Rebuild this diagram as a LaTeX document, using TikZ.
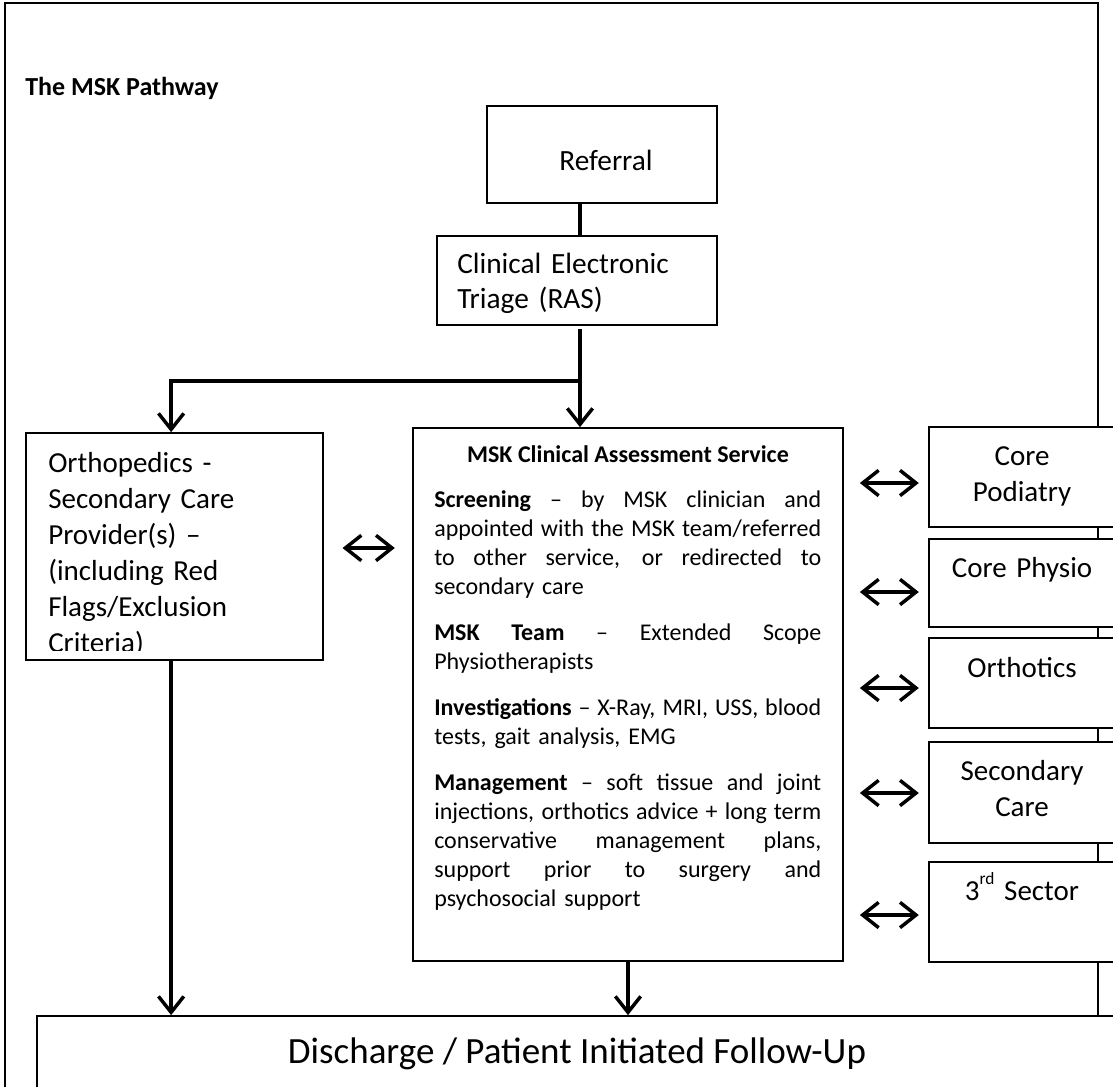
\documentclass[tikz,border=0pt]{standalone}
\usepackage{fontspec}
\setmainfont{Carlito}
\usetikzlibrary{arrows.meta,fit,calc}
\newcommand{\jline}[1]{\leavevmode\hbox to 290.25pt{\spaceskip=0.226em plus 1fil\relax #1}}
\begin{document}
\begin{tikzpicture}[x=0.75pt,y=-0.75pt,
  box/.style={draw, line width=1.3pt, fill=white, inner sep=0pt},
  frm/.style={draw, line width=1.5pt, inner sep=0pt},
  conn/.style={line width=2.6pt},
  tip/.tip={Straight Barb[length=12pt,width=19pt]},
  arr/.style={line width=2.6pt, -tip},
  dbl/.style={line width=2.6pt, tip-tip},
  big/.style={inner sep=0pt, font=\fontsize{22}{26.5}\selectfont},
  rtxt/.style={inner sep=0pt, anchor=base, text width=130pt, align=center, font=\fontsize{21.75}{27}\selectfont},
  small/.style={inner sep=0pt, font=\fontsize{18}{21.75}\selectfont},
]
\useasboundingbox (0,0) rectangle (1113,1086);
\clip (0,0) rectangle (1113,1086);
% outer frame
\node[frm, fit={(5,3) (1098,1130)}] (frame) {};
\node[anchor=base west, inner sep=0pt, font=\bfseries\fontsize{19.5}{23}\selectfont] (title) at (25,95) {The MSK Pathway};

% boxes
\node[box, fit={(487,106) (717,203)}] (ref) {};
\node[box, fit={(437,236) (717,325)}] (tri) {};
\node[box, fit={(26,433) (323,660)}] (orth) {};
\node[box, fit={(413,428) (843,961)}] (msk) {};
\node[box, fit={(929,427) (1115,527)}] (pod) {};
\node[box, fit={(929,539) (1115,627)}] (phy) {};
\node[box, fit={(929,638) (1115,728)}] (oth) {};
\node[box, fit={(929,742) (1115,843)}] (sec) {};
\node[box, fit={(929,862) (1115,962)}] (sect) {};
\node[box, fit={(37,1016) (1140,1130)}] (dis) {};

% texts
\node[big, anchor=base] (reft) at (606,170) {Referral};
\node[big, anchor=base west, text width=190pt, align=left] (trit) at (457,273) {Clinical Electronic\\Triage (RAS)};
\begin{scope}
\clip (26,433) rectangle (323,650);
\node[inner sep=0pt, anchor=base west, text width=210pt, align=left, font=\fontsize{21.75}{27}\selectfont] (ortht) at (48,472)
  {Orthopedics -\\Secondary Care\\Provider(s) –\\(including Red\\Flags/Exclusion\\Criteria)};
\end{scope}
\node[small, anchor=base, font=\bfseries\fontsize{18}{21.75}\selectfont] (mskt) at (628,462) {MSK Clinical Assessment Service};
\node[small, anchor=base west, text width=290.25pt, align=left] (mskb) at (434,507) {%
\jline{\textbf{Screening} – by MSK clinician and}\\
\jline{appointed with the MSK team/referred}\\
\jline{to other service, or redirected to}\\
secondary care\\[12.75pt]
\jline{\textbf{MSK Team} – Extended Scope}\\
Physiotherapists\\[12.75pt]
\jline{\textbf{Investigations} – X-Ray, MRI, USS, blood}\\
tests, gait analysis, EMG\\[12.75pt]
\jline{\textbf{Management} – soft tissue and joint}\\
\jline{injections, orthotics advice + long term}\\
\jline{conservative management plans,}\\
\jline{support prior to surgery and}\\
psychosocial support};
\node[rtxt] (podt) at (1022,465) {Core\\Podiatry};
\node[rtxt] (phyt) at (1022,577) {Core Physio};
\node[rtxt] (otht) at (1022,677) {Orthotics};
\node[rtxt] (sect1) at (1022,780) {Secondary\\Care};
\node[rtxt] (sectt) at (1022,900) {3\raisebox{0.55em}{\fontsize{13}{13}\selectfont rd} Sector};
\node[inner sep=0pt, anchor=base, font=\fontsize{27.75}{33}\selectfont] (dist) at (577,1063) {Discharge / Patient Initiated Follow-Up};

% connectors
\coordinate (jx) at (580,381);
\draw[conn] (ref.south -| jx) -- (tri.north -| jx);
\draw[conn] ($(tri.south -| jx)+(0,3)$) -- (jx);
\draw[arr] (jx) -| ($(orth.north west)+(146,0)$);
\draw[arr] (jx) -- (msk.north -| jx);
\draw[arr] ($(orth.south west)+(146,0)$) -- ($(dis.north west)+(135,0)$);
\draw[arr] (msk.south) -- (msk.south |- dis.north);
\draw[dbl, shorten <=14, shorten >=13] (orth.east |- 0,548) -- (msk.west |- 0,548);
\draw[dbl, shorten <=12, shorten >=7] (msk.east |- 0,483) -- (pod.west |- 0,483);
\draw[dbl, shorten <=12, shorten >=7] (msk.east |- 0,592) -- (phy.west |- 0,592);
\draw[dbl, shorten <=12, shorten >=7] (msk.east |- 0,688) -- (oth.west |- 0,688);
\draw[dbl, shorten <=12, shorten >=7] (msk.east |- 0,793) -- (sec.west |- 0,793);
\draw[dbl, shorten <=12, shorten >=7] (msk.east |- 0,915) -- (sect.west |- 0,915);
\end{tikzpicture}
\end{document}
